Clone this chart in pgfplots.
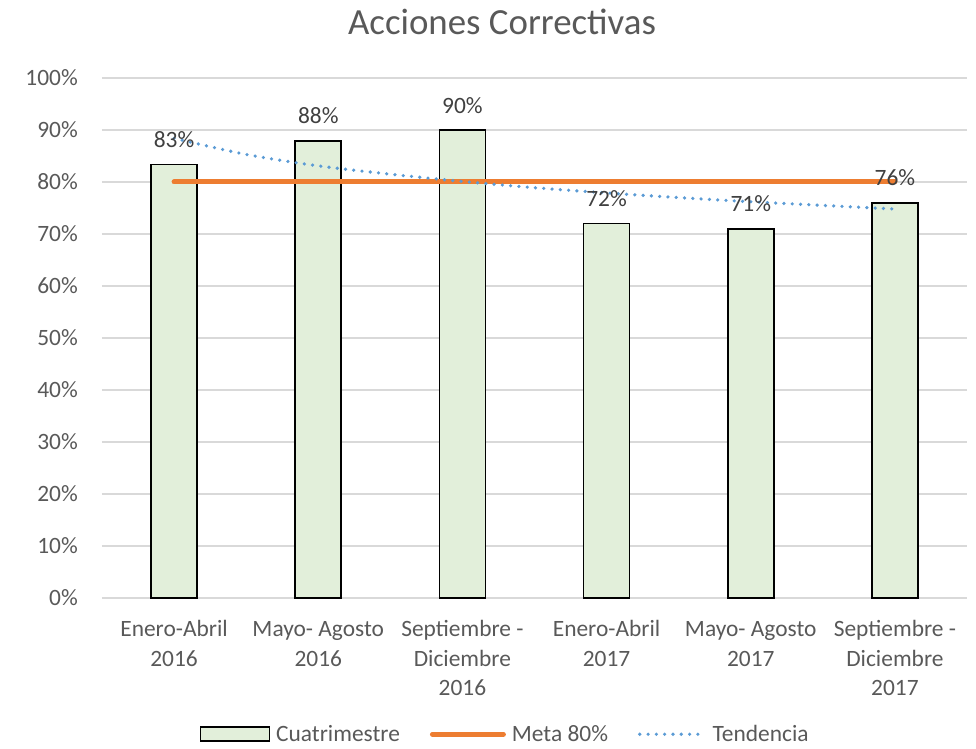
\documentclass[border=0pt]{standalone}
\usepackage{pgfplots}
\pgfplotsset{compat=1.18}
\usepackage{fontspec}
\setmainfont{Carlito}
\definecolor{txt}{HTML}{595959}
\definecolor{lbl}{HTML}{404040}
\definecolor{grd}{HTML}{D9D9D9}
\definecolor{barfill}{HTML}{E2EFDA}
\definecolor{meta}{HTML}{ED7D31}
\definecolor{trend}{HTML}{5B9BD5}

\begin{document}
\begin{tikzpicture}
\begin{axis}[
  name=ax,
  scale only axis,
  width=865bp, height=520bp,
  xmin=0.5, xmax=6.5, ymin=0, ymax=100,
  xtick={1,...,6},
  xticklabels={{\strut Enero-Abril\\2016},{\strut Mayo- Agosto\\2016},{\strut Septiembre -\\Diciembre\\2016},{\strut Enero-Abril\\2017},{\strut Mayo- Agosto\\2017},{\strut Septiembre -\\Diciembre\\2017}},
  ytick={0,10,...,100},
  yticklabel={\pgfmathprintnumber{\tick}\%},
  /pgf/number format/assume math mode=true,
  axis line style={draw=none},
  major tick length=0pt,
  ymajorgrids,
  grid style={grd, line width=1.3bp},
  tick label style={font=\fontsize{23.5}{29.5}\selectfont, text=txt},
  x tick label style={align=center, inner sep=0pt, yshift=-18bp},
  y tick label style={inner sep=0pt, xshift=-24bp},
  legend style={at={(0.466,-0.262)}, anchor=center, draw=none, fill=none,
    font=\fontsize{23.5}{29.5}\selectfont, text=txt,
    legend columns=3,
    /tikz/every odd column/.append style={column sep=4bp},
    /tikz/every even column/.append style={column sep=28bp}},
]
\addplot[ybar, bar width=46bp, fill=barfill, draw=black, line width=1.6bp,
  point meta=y,
  nodes near coords={\pgfmathprintnumber[fixed,precision=0]{\pgfplotspointmeta}\%},
  nodes near coords style={font=\fontsize{23.5}{29.5}\selectfont, text=lbl, anchor=south, inner sep=0pt, yshift=16bp},
  legend image code/.code={\draw[fill=barfill, draw=black, line width=1.6bp] (0bp,-7bp) rectangle (69bp,7bp);}]
  coordinates {(1,83.4) (2,87.9) (3,90) (4,72) (5,71) (6,76)};
\addlegendentry{Cuatrimestre}
\addplot[meta, line width=5bp, line cap=round,
  legend image code/.code={\draw[meta, line width=5bp, line cap=round] (0bp,0bp) -- (71bp,0bp);}]
  coordinates {(1,80) (6,80)};
\addlegendentry{Meta 80\%}
\addplot[trend, line width=3.6bp, line cap=round, dash pattern=on 0pt off 8.3bp, smooth,
  legend image code/.code={\draw[trend, line width=3.6bp, line cap=round, dash pattern=on 0pt off 8.3bp] (0bp,0bp) -- (65bp,0bp);}]
  coordinates {(1,88.4) (1.5,85.3) (2,83.1) (2.5,81.5) (3,80.1) (3.5,78.9) (4,77.9) (4.5,77.0) (5,76.2) (5.5,75.5) (6,74.8)};
\addlegendentry{Tendencia}
\end{axis}
\node[anchor=base, text=txt, font=\fontsize{37}{44}\selectfont] at ([shift={(400bp,43bp)}]ax.north west) {Acciones Correctivas};
\pgfresetboundingbox
\path[use as bounding box] ([shift={(-102bp,-151bp)}]ax.south west) rectangle ([shift={(9bp,78bp)}]ax.north east);
\end{tikzpicture}
\end{document}
